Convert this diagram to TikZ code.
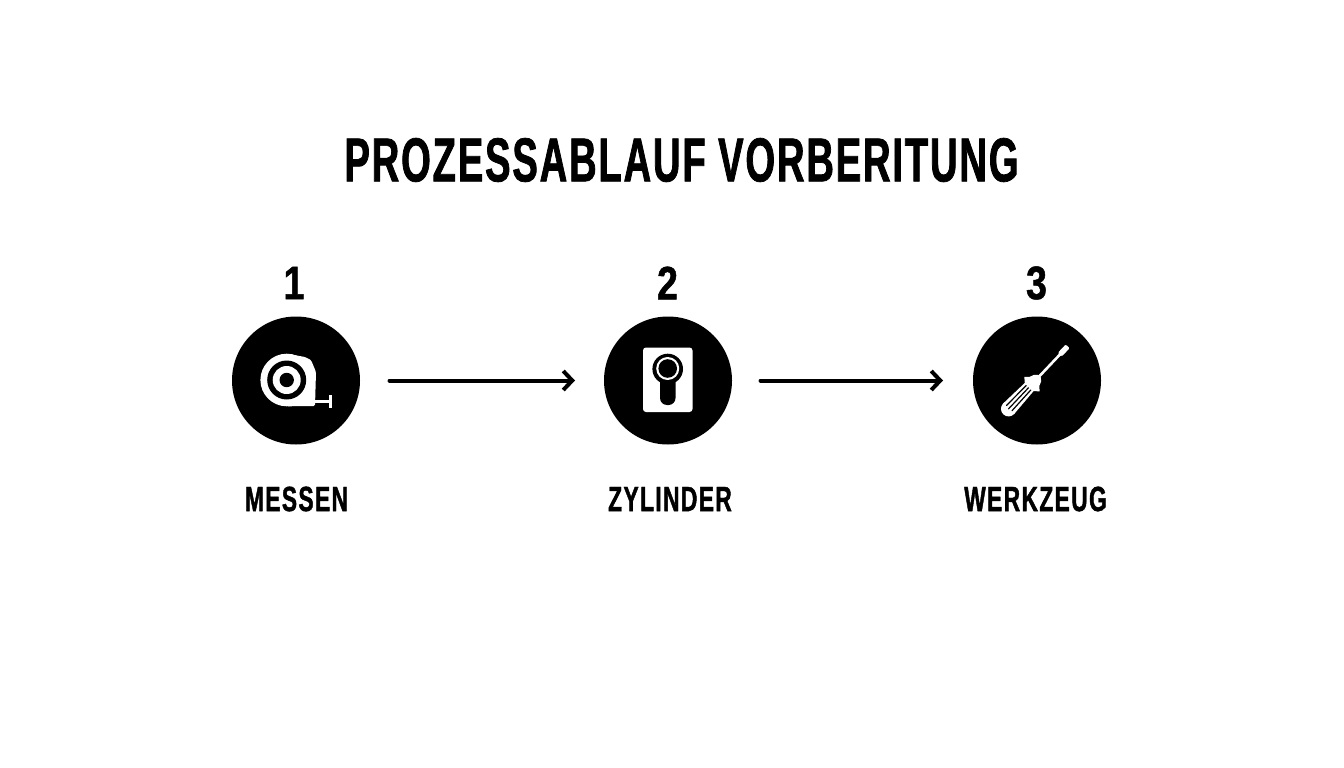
\documentclass[tikz,border=0pt]{standalone}
\usepackage{fontspec}
\setmainfont[FakeStretch=0.8,FakeBold=1]{Liberation Sans Bold}
\newfontfamily\narrowfont[FakeStretch=0.615,LetterSpace=3,FakeBold=1.2]{Liberation Sans Bold}
\newfontfamily\narrowlabel[FakeStretch=0.65,LetterSpace=4,FakeBold=1.2]{Liberation Sans Bold}
\usetikzlibrary{arrows.meta}
\tikzset{
  disc/.style={circle,fill=black,draw=none,minimum size=128pt,inner sep=0pt,outer sep=0pt},
  titletext/.style={font=\narrowfont\fontsize{62}{62}\selectfont,anchor=center,inner sep=0pt},
  numtext/.style={font=\fontsize{47}{47}\selectfont,anchor=center,inner sep=0pt},
  labeltext/.style={font=\narrowlabel\fontsize{35}{35}\selectfont,anchor=center,inner sep=0pt},
  flow/.style={line width=4pt,-{Straight Barb[length=9pt,width=19pt,line width=4pt]},line cap=round},
  iconw/.style={fill=white,draw=none},
  iconk/.style={fill=black,draw=none}
}
\begin{document}
\begin{tikzpicture}[x=1pt,y=-1pt]
\useasboundingbox[fill=white] (0,0) rectangle (1344,768);
\node[titletext] (title) at (681.5,160) {PROZESSABLAUF VORBERITUNG};
\node[disc] (c1) at (296,380.5) {};
\node[disc] (c2) at (668,380.5) {};
\node[disc] (c3) at (1037,380.5) {};
\node[numtext] (n1) at (294,283) {1};
\node[numtext] (n2) at (667.5,283) {2};
\node[numtext] (n3) at (1036.5,283) {3};
\node[labeltext] (l1) at (296.5,499) {MESSEN};
\node[labeltext] (l2) at (670,499) {ZYLINDER};
\node[labeltext] (l3) at (1035.5,499) {WERKZEUG};
\draw[flow,shorten <=29.5pt,shorten >=29pt] (c1.east) -- (c2.west);
\draw[flow,shorten <=28.5pt,shorten >=30pt] (c2.east) -- (c3.west);
% tape measure
\fill[iconw] (286.7,380) circle[radius=26.3];
\fill[iconw,rounded corners=1.5pt] (286.7,353.7) -- (305,357) -- (311,360) -- (316,372) -- (315,406) -- (286.7,406.3) -- cycle;
\draw[white,line width=2.2pt] (315,401.5) -- (330.5,401.5);
\draw[white,line width=2.6pt] (330.5,395) -- (330.5,408);
\fill[iconk] (286.7,380) circle[radius=19.5];
\fill[iconw] (286.7,380) circle[radius=14];
\fill[iconk] (286.7,380) circle[radius=7.2];
% cylinder
\fill[iconw,rounded corners=3pt] (643,347.5) rectangle (692.5,412);
\fill[iconk] (667.7,369) circle[radius=15.3];
\fill[iconk,rounded corners=7pt] (660,370) rectangle (675.5,405);
\fill[iconw] (667.7,368.5) circle[radius=11.5];
\fill[iconk] (667.7,368.5) circle[radius=9.3];
% screwdriver
\begin{scope}[shift={(1006.5,411)},rotate=46.6]
\fill[iconw] (3,0) circle[radius=7.6];
\fill[iconw] (3,-7.6) -- (33,-6) -- (37,-10.5) -- (41,-6.5) -- (45,-5) -- (48,-2) -- (48,2) -- (45,5) -- (41,6.5) -- (37,10.5) -- (33,6) -- (3,7.6) -- cycle;
\fill[iconw] (47,-1.3) -- (77,-1.3) -- (79,-2.7) -- (88,-2.7) -- (89,-1.5) -- (89,1.5) -- (88,2.7) -- (79,2.7) -- (77,1.3) -- (47,1.3) -- cycle;
\draw[black,line width=1.2pt,line cap=round] (4,-3.8) -- (32,-3.2);
\draw[black,line width=1.2pt,line cap=round] (3,0) -- (32,0);
\draw[black,line width=1.2pt,line cap=round] (4,3.8) -- (32,3.2);
\end{scope}
\end{tikzpicture}
\end{document}
